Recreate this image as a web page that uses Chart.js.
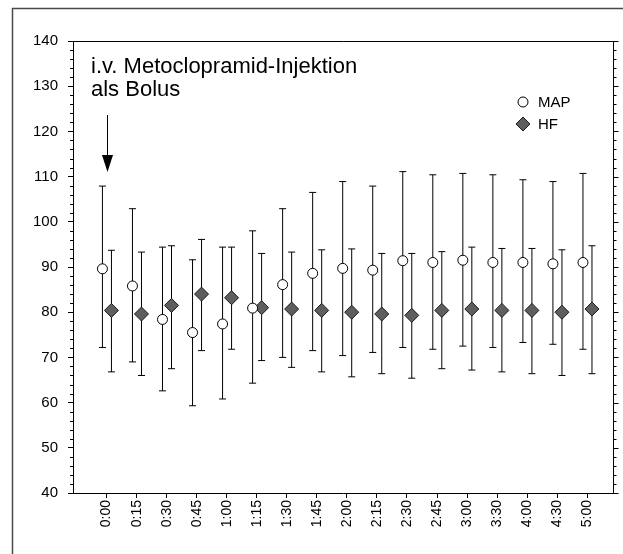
<!DOCTYPE html>
<html lang="de">
<head>
    <meta charset="UTF-8">
    <title>MAP und HF nach Metoclopramid</title>
    <script src="https://cdn.jsdelivr.net/npm/chart.js"></script>
    <style>
        html, body { margin: 0; padding: 0; background: #fff; }
    </style>
</head>
<body>
    <canvas id="chart" width="623" height="554"></canvas>

    <script>
        // Zeitpunkte (x-Achse)
        const times = ['0:00', '0:15', '0:30', '0:45', '1:00', '1:15', '1:30', '1:45', '2:00',
                       '2:15', '2:30', '2:45', '3:00', '3:30', '4:00', '4:30', '5:00'];

        // MAP: Mittelwert, obere und untere Fehlergrenze
        const mapMean = [89.6, 85.8, 78.4, 75.5, 77.4, 80.9, 86.1, 88.6, 89.7, 89.3, 91.4, 91.0, 91.5, 91.0, 91.0, 90.7, 91.0];
        const mapHigh = [107.9, 102.9, 94.4, 91.6, 94.4, 98.0, 102.9, 106.5, 108.9, 107.9, 111.1, 110.4, 110.7, 110.4, 109.3, 108.9, 110.7];
        const mapLow  = [72.2, 69.0, 62.6, 59.3, 60.8, 64.3, 70.0, 71.5, 70.4, 71.1, 72.2, 71.8, 72.5, 72.2, 73.3, 72.9, 71.8];

        // HF: Mittelwert, obere und untere Fehlergrenze
        const hfMean = [80.4, 79.6, 81.5, 84.0, 83.2, 81.0, 80.7, 80.4, 80.0, 79.6, 79.3, 80.4, 80.7, 80.4, 80.4, 80.0, 80.7];
        const hfHigh = [93.7, 93.3, 94.7, 96.1, 94.4, 93.0, 93.3, 93.8, 94.0, 93.0, 93.0, 93.4, 94.4, 94.1, 94.1, 93.8, 94.7];
        const hfLow  = [66.8, 66.0, 67.5, 71.5, 71.8, 69.3, 67.8, 66.8, 65.7, 66.4, 65.4, 67.5, 67.2, 66.8, 66.4, 66.0, 66.4];

        // y-Achse
        const yMin = 40;
        const yMax = 140;
        const yStep = 10;
        const yMinorStep = 2;

        const annotationLines = ['i.v. Metoclopramid-Injektion', 'als Bolus'];

        const FONT = '"Liberation Sans", Arial, Helvetica, sans-serif';
        const MAP_SHIFT = -0.14; // MAP etwas links vom Tick
        const HF_SHIFT = 0.16;   // HF etwas rechts vom Tick

        const toPoints = (values, shift) => values.map((v, i) => ({ x: i + shift, y: v }));

        // Fehlerbalken, Nebenstriche, Rahmen, Beschriftung und Legende
        const extras = {
            id: 'extras',
            beforeDraw(chart) {
                const ctx = chart.ctx;
                ctx.save();
                ctx.fillStyle = '#fff';
                ctx.fillRect(0, 0, chart.width, chart.height);
                ctx.strokeStyle = '#4a4a4a';
                ctx.lineWidth = 1.5;
                ctx.strokeRect(12.5, 8.5, chart.width + 40, chart.height + 40);
                ctx.restore();
            },
            beforeDatasetsDraw(chart) {
                const ctx = chart.ctx;
                const xs = chart.scales.x;
                const ys = chart.scales.y;
                ctx.save();
                ctx.strokeStyle = '#000';
                ctx.lineWidth = 1;
                chart.data.datasets.forEach(ds => {
                    ds.data.forEach((p, i) => {
                        const x = xs.getPixelForValue(p.x);
                        const top = ys.getPixelForValue(ds.errHigh[i]);
                        const bot = ys.getPixelForValue(ds.errLow[i]);
                        ctx.beginPath();
                        ctx.moveTo(x, top);
                        ctx.lineTo(x, bot);
                        ctx.moveTo(x - 3.5, top);
                        ctx.lineTo(x + 3.5, top);
                        ctx.moveTo(x - 3.5, bot);
                        ctx.lineTo(x + 3.5, bot);
                        ctx.stroke();
                    });
                });
                ctx.restore();
            },
            afterDraw(chart) {
                const ctx = chart.ctx;
                const area = chart.chartArea;
                const xs = chart.scales.x;
                const ys = chart.scales.y;
                ctx.save();
                ctx.strokeStyle = '#000';
                ctx.lineWidth = 1;

                // obere Linie und rechte Achse
                const r = Math.round(area.right) + 0.5;
                const t = Math.round(area.top) + 0.5;
                ctx.beginPath();
                ctx.moveTo(area.left, t);
                ctx.lineTo(r, t);
                ctx.moveTo(r, area.top);
                ctx.lineTo(r, area.bottom);
                ctx.stroke();

                // Striche links (Nebenstriche) und rechts (alle)
                ctx.beginPath();
                for (let v = yMin; v <= yMax; v += yMinorStep) {
                    const y = Math.round(ys.getPixelForValue(v)) + 0.5;
                    const major = v % yStep === 0;
                    if (!major) {
                        ctx.moveTo(area.left - 3, y);
                        ctx.lineTo(area.left, y);
                    }
                    ctx.moveTo(r, y);
                    ctx.lineTo(r + (major ? 5 : 3), y);
                }
                ctx.stroke();

                // Beschriftung
                ctx.fillStyle = '#000';
                ctx.font = '22px ' + FONT;
                ctx.textBaseline = 'alphabetic';
                ctx.textAlign = 'left';
                annotationLines.forEach((line, k) => {
                    ctx.fillText(line, area.left + 18, area.top + 32 + k * 22.5);
                });

                // Pfeil auf 0:00
                const ax = Math.round(xs.getPixelForValue(0)) + 0.5;
                ctx.beginPath();
                ctx.moveTo(ax, area.top + 74);
                ctx.lineTo(ax, area.top + 116);
                ctx.stroke();
                ctx.beginPath();
                ctx.moveTo(ax - 5.5, area.top + 114);
                ctx.lineTo(ax + 5.5, area.top + 114);
                ctx.lineTo(ax, area.top + 131);
                ctx.closePath();
                ctx.fill();

                // Legende
                const lx = area.left + 450;
                ctx.font = '15px ' + FONT;
                ctx.textBaseline = 'middle';
                chart.data.datasets.forEach((ds, k) => {
                    const ly = area.top + 61 + k * 22;
                    ctx.beginPath();
                    if (ds.pointStyle === 'rectRot') {
                        ctx.moveTo(lx - 7, ly);
                        ctx.lineTo(lx, ly - 7);
                        ctx.lineTo(lx + 7, ly);
                        ctx.lineTo(lx, ly + 7);
                        ctx.closePath();
                    } else {
                        ctx.arc(lx, ly, 5, 0, Math.PI * 2);
                    }
                    ctx.fillStyle = ds.backgroundColor;
                    ctx.fill();
                    ctx.strokeStyle = ds.borderColor;
                    ctx.stroke();
                    ctx.fillStyle = '#000';
                    ctx.fillText(ds.label, lx + 15, ly + 1);
                });
                ctx.restore();
            }
        };

        const ctx = document.getElementById('chart').getContext('2d');
        new Chart(ctx, {
            type: 'scatter',
            data: {
                datasets: [{
                    label: 'MAP',
                    data: toPoints(mapMean, MAP_SHIFT),
                    errHigh: mapHigh,
                    errLow: mapLow,
                    pointStyle: 'circle',
                    pointRadius: 5,
                    backgroundColor: '#ffffff',
                    borderColor: '#000000',
                    borderWidth: 1
                }, {
                    label: 'HF',
                    data: toPoints(hfMean, HF_SHIFT),
                    errHigh: hfHigh,
                    errLow: hfLow,
                    pointStyle: 'rectRot',
                    pointRadius: 7,
                    backgroundColor: '#5e5e5e',
                    borderColor: '#1a1a1a',
                    borderWidth: 1
                }]
            },
            options: {
                responsive: false,
                animation: false,
                events: [],
                layout: { padding: { top: 41, right: 10, left: 0, bottom: 0 } },
                plugins: {
                    legend: { display: false },
                    tooltip: { enabled: false }
                },
                scales: {
                    x: {
                        type: 'linear',
                        min: -1.12,
                        max: 16.86,
                        afterBuildTicks: scale => {
                            scale.ticks = times.map((t, i) => ({ value: i }));
                        },
                        afterFit: scale => { scale.height = 61; },
                        ticks: {
                            callback: value => times[value],
                            autoSkip: false,
                            minRotation: 90,
                            maxRotation: 90,
                            padding: 2,
                            color: '#000',
                            font: { family: FONT, size: 14 }
                        },
                        grid: { drawOnChartArea: false, tickLength: 5, color: '#000' },
                        border: { display: true, color: '#000', width: 1 }
                    },
                    y: {
                        min: yMin,
                        max: yMax,
                        afterFit: scale => { scale.width = 73; },
                        ticks: {
                            stepSize: yStep,
                            padding: 10,
                            color: '#000',
                            font: { family: FONT, size: 15 }
                        },
                        grid: { drawOnChartArea: false, tickLength: 5, color: '#000' },
                        border: { display: true, color: '#000', width: 1 }
                    }
                }
            },
            plugins: [extras]
        });
    </script>
</body>
</html>
